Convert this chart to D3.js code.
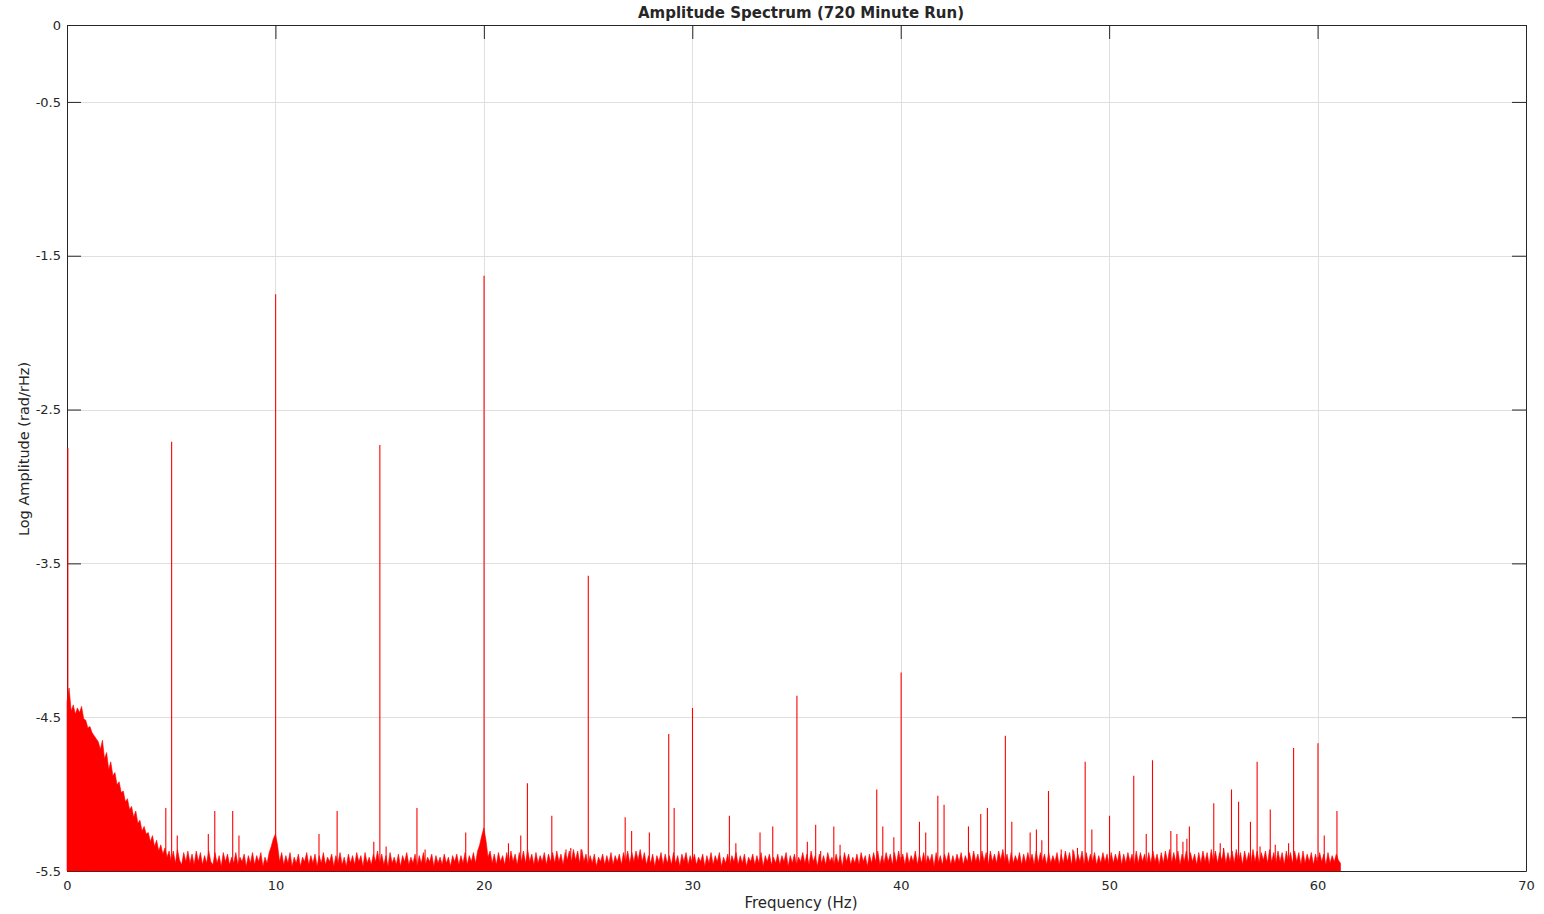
<!DOCTYPE html>
<html>
<head>
<meta charset="utf-8">
<script src="https://cdn.jsdelivr.net/npm/d3@7"></script>
<style>
  html, body { margin: 0; padding: 0; background: #fff; }
  svg text { font-family: "DejaVu Sans", sans-serif; fill: #262626; }
</style>
</head>
<body>
<svg id="chart" width="1544" height="914"></svg>
<script>
// Axis ticks
const xTicks = [0, 10, 20, 30, 40, 50, 60, 70];
const yTicks = [0, -0.5, -1.5, -2.5, -3.5, -4.5, -5.5];

// Broadband noise floor, log amplitude per 0.1 Hz bin starting at 0 Hz
const floorStep = 0.1;
const floorLevel = [
  -4.40,-4.31,-4.46,-4.42,-4.48,-4.44,-4.47,-4.43,-4.51,-4.52,
  -4.57,-4.56,-4.60,-4.62,-4.64,-4.66,-4.71,-4.65,-4.77,-4.73,
  -4.84,-4.79,-4.88,-4.86,-4.94,-4.92,-4.99,-4.98,-5.05,-5.03,
  -5.10,-5.08,-5.15,-5.11,-5.19,-5.17,-5.24,-5.21,-5.26,-5.25,
  -5.31,-5.27,-5.34,-5.30,-5.37,-5.33,-5.39,-5.35,-5.41,-5.37,
  -5.44,-5.37,-5.45,-5.36,-5.43,-5.46,-5.38,-5.44,-5.37,-5.45,
  -5.39,-5.46,-5.37,-5.44,-5.38,-5.46,-5.40,-5.45,-5.37,-5.44,
  -5.46,-5.38,-5.45,-5.40,-5.47,-5.38,-5.44,-5.39,-5.46,-5.41,
  -5.45,-5.38,-5.46,-5.41,-5.44,-5.39,-5.47,-5.40,-5.45,-5.38,
  -5.46,-5.40,-5.44,-5.38,-5.47,-5.41,-5.45,-5.38,-5.34,-5.29,
  -5.26,-5.33,-5.44,-5.38,-5.46,-5.40,-5.45,-5.38,-5.47,-5.41,
  -5.45,-5.39,-5.47,-5.41,-5.44,-5.38,-5.46,-5.40,-5.45,-5.39,
  -5.47,-5.40,-5.45,-5.38,-5.46,-5.41,-5.44,-5.39,-5.47,-5.40,
  -5.45,-5.38,-5.46,-5.41,-5.47,-5.39,-5.45,-5.40,-5.46,-5.38,
  -5.44,-5.40,-5.47,-5.38,-5.45,-5.41,-5.46,-5.39,-5.44,-5.37,
  -5.45,-5.39,-5.46,-5.40,-5.47,-5.38,-5.45,-5.41,-5.46,-5.39,
  -5.47,-5.40,-5.44,-5.38,-5.46,-5.41,-5.45,-5.39,-5.47,-5.40,
  -5.45,-5.38,-5.46,-5.41,-5.44,-5.39,-5.47,-5.40,-5.45,-5.41,
  -5.46,-5.39,-5.45,-5.41,-5.47,-5.40,-5.44,-5.39,-5.46,-5.40,
  -5.45,-5.38,-5.46,-5.40,-5.44,-5.38,-5.45,-5.37,-5.33,-5.27,
  -5.22,-5.30,-5.41,-5.37,-5.45,-5.39,-5.46,-5.38,-5.44,-5.40,
  -5.46,-5.38,-5.45,-5.37,-5.44,-5.39,-5.46,-5.38,-5.44,-5.37,
  -5.45,-5.36,-5.44,-5.39,-5.46,-5.38,-5.45,-5.40,-5.44,-5.38,
  -5.46,-5.39,-5.44,-5.38,-5.45,-5.37,-5.44,-5.39,-5.46,-5.38,
  -5.43,-5.37,-5.44,-5.36,-5.43,-5.37,-5.45,-5.36,-5.44,-5.39,
  -5.46,-5.40,-5.45,-5.39,-5.47,-5.41,-5.44,-5.39,-5.46,-5.40,
  -5.45,-5.38,-5.46,-5.40,-5.44,-5.39,-5.46,-5.38,-5.44,-5.37,
  -5.45,-5.38,-5.44,-5.37,-5.43,-5.36,-5.44,-5.38,-5.46,-5.40,
  -5.45,-5.39,-5.47,-5.40,-5.44,-5.38,-5.46,-5.39,-5.45,-5.40,
  -5.46,-5.38,-5.45,-5.40,-5.47,-5.39,-5.44,-5.38,-5.46,-5.40,
  -5.45,-5.39,-5.46,-5.41,-5.44,-5.39,-5.47,-5.40,-5.45,-5.38,
  -5.46,-5.40,-5.44,-5.38,-5.47,-5.41,-5.45,-5.39,-5.46,-5.40,
  -5.44,-5.38,-5.46,-5.40,-5.45,-5.39,-5.47,-5.41,-5.44,-5.39,
  -5.46,-5.40,-5.45,-5.38,-5.47,-5.40,-5.44,-5.39,-5.46,-5.41,
  -5.45,-5.39,-5.46,-5.40,-5.44,-5.38,-5.47,-5.40,-5.45,-5.39,
  -5.46,-5.41,-5.44,-5.38,-5.45,-5.39,-5.46,-5.37,-5.44,-5.40,
  -5.47,-5.39,-5.45,-5.40,-5.46,-5.38,-5.44,-5.41,-5.46,-5.39,
  -5.45,-5.40,-5.47,-5.38,-5.44,-5.39,-5.46,-5.41,-5.45,-5.39,
  -5.46,-5.38,-5.44,-5.40,-5.47,-5.39,-5.45,-5.38,-5.44,-5.37,
  -5.46,-5.40,-5.45,-5.38,-5.44,-5.39,-5.46,-5.38,-5.45,-5.37,
  -5.44,-5.39,-5.46,-5.38,-5.45,-5.40,-5.44,-5.37,-5.46,-5.39,
  -5.45,-5.38,-5.46,-5.40,-5.44,-5.39,-5.47,-5.38,-5.45,-5.40,
  -5.46,-5.39,-5.44,-5.38,-5.46,-5.40,-5.45,-5.39,-5.44,-5.38,
  -5.46,-5.40,-5.44,-5.38,-5.45,-5.37,-5.44,-5.39,-5.45,-5.37,
  -5.44,-5.38,-5.46,-5.37,-5.44,-5.39,-5.45,-5.37,-5.43,-5.36,
  -5.44,-5.39,-5.46,-5.38,-5.45,-5.40,-5.44,-5.38,-5.46,-5.39,
  -5.45,-5.38,-5.44,-5.39,-5.46,-5.37,-5.45,-5.38,-5.44,-5.39,
  -5.46,-5.38,-5.45,-5.40,-5.44,-5.38,-5.46,-5.39,-5.45,-5.37,
  -5.44,-5.38,-5.46,-5.37,-5.45,-5.39,-5.44,-5.37,-5.46,-5.38,
  -5.45,-5.39,-5.44,-5.38,-5.46,-5.40,-5.45,-5.38,-5.44,-5.39,
  -5.46,-5.38,-5.45,-5.39,-5.44,-5.37,-5.46,-5.39,-5.45,-5.38,
  -5.44,-5.39,-5.46,-5.37,-5.45,-5.38,-5.44,-5.39,-5.46,-5.38,
  -5.45,-5.37,-5.44,-5.39,-5.46,-5.38,-5.45,-5.37,-5.44,-5.36,
  -5.45,-5.38,-5.44,-5.37,-5.46,-5.39,-5.44,-5.37,-5.45,-5.38,
  -5.44,-5.39,-5.46,-5.38,-5.45,-5.37,-5.44,-5.38,-5.46,-5.36,
  -5.44,-5.37,-5.45,-5.38,-5.43,-5.36,-5.45,-5.38,-5.44,-5.37,
  -5.45,-5.36,-5.44,-5.38,-5.46,-5.37,-5.44,-5.38,-5.45,-5.36,
  -5.44,-5.37,-5.45,-5.38,-5.43,-5.37,-5.45,-5.36,-5.44,-5.38,
  -5.45,-5.37,-5.44,-5.38,-5.46,-5.37,-5.44,-5.38,-5.45,-5.37,
  -5.44,-5.38,-5.46,-5.37,-5.45,-5.39,-5.44,-5.38,-5.46,-5.39,
  -5.45,-5.38,-5.44,-5.39,-5.46,-5.38,-5.45,-5.40,-5.44,-5.39,
  -5.43,-5.45
];

// Narrow spectral lines: frequency (Hz) and log amplitude
const lineFreq = [
  0.04, 4.74, 5.02, 5.29, 6.78, 7.09, 7.95, 8.25, 10.01, 12.09,
  12.96, 14.72, 15.01, 15.31, 16.79, 17.18, 19.13, 20.01, 21.18, 21.77,
  22.09, 23.26, 23.94, 24.17, 24.66, 25.01, 26.78, 27.09, 27.94, 28.87,
  29.13, 30.01, 31.78, 32.09, 33.25, 33.86, 35.02, 35.52, 35.92, 36.16,
  36.79, 37.09, 38.85, 39.14, 39.67, 40.02, 40.90, 41.20, 41.78, 42.08,
  43.25, 43.84, 44.16, 45.02, 45.33, 46.21, 46.51, 46.77, 47.09, 47.70,
  48.26, 48.48, 48.85, 49.17, 50.02, 51.18, 51.78, 52.08, 52.96, 53.25,
  53.54, 53.73, 53.85, 55.02, 55.33, 55.49, 55.87, 56.21, 56.78, 57.10,
  57.24, 57.73, 57.97, 58.61, 58.85, 60.02, 60.32, 60.93
];
const lineLevel = [
  -2.75, -5.09, -2.71, -5.27, -5.26, -5.11, -5.11, -5.27, -1.75, -5.26,
  -5.11, -5.31, -2.73, -5.34, -5.09, -5.36, -5.25, -1.63, -5.32, -5.27,
  -4.93, -5.14, -5.36, -5.35, -5.36, -3.58, -5.15, -5.24, -5.25, -4.61,
  -5.09, -4.44, -5.14, -5.32, -5.25, -5.21, -4.36, -5.31, -5.20, -5.37,
  -5.21, -5.33, -4.97, -5.21, -5.28, -4.21, -5.18, -5.25, -5.01, -5.07,
  -5.21, -5.13, -5.09, -4.62, -5.18, -5.25, -5.23, -5.30, -4.98, -5.36,
  -5.36, -5.35, -4.79, -5.23, -5.14, -4.88, -5.26, -4.78, -5.24, -5.26,
  -5.31, -5.29, -5.21, -5.06, -5.32, -5.35, -4.97, -5.05, -5.18, -4.79,
  -5.34, -5.10, -5.33, -5.32, -4.70, -4.67, -5.27, -5.11
];

const plot = { left: 67, right: 1526, top: 25, bottom: 871 };
const tickLen = 14;
const axisColor = "#262626";

const svg = d3.select("#chart");

const x = d3.scaleLinear().domain([0, 70]).range([plot.left, plot.right]);
const y = d3.scaleLinear().domain([-5.5, 0]).range([plot.bottom, plot.top]);

// Grid
const grid = svg.append("g").attr("stroke", "#dfdfdf").attr("stroke-width", 1);
grid.selectAll(".gx").data(xTicks.slice(1, -1)).join("line")
  .attr("x1", d => Math.round(x(d)) + 0.5).attr("x2", d => Math.round(x(d)) + 0.5)
  .attr("y1", plot.top).attr("y2", plot.bottom);
grid.selectAll(".gy").data(yTicks.slice(1, -1)).join("line")
  .attr("y1", d => Math.round(y(d)) + 0.5).attr("y2", d => Math.round(y(d)) + 0.5)
  .attr("x1", plot.left).attr("x2", plot.right);

// Axes: ticks pointing inward on all four sides
function styleAxis(g) {
  g.select(".domain").attr("stroke", axisColor);
  g.selectAll(".tick line").attr("stroke", axisColor);
  g.selectAll(".tick text").attr("fill", axisColor)
    .style("font-family", '"DejaVu Sans", sans-serif').style("font-size", "13px");
}

svg.append("g").attr("transform", `translate(0,${plot.bottom})`)
  .call(d3.axisBottom(x).tickValues(xTicks).tickFormat(d3.format("d"))
    .tickSizeInner(-tickLen).tickSizeOuter(0).tickPadding(10))
  .call(g => g.attr("font-size", null).attr("font-family", null))
  .call(styleAxis);

svg.append("g").attr("transform", `translate(0,${plot.top})`)
  .call(d3.axisTop(x).tickValues(xTicks).tickFormat("")
    .tickSizeInner(-tickLen).tickSizeOuter(0))
  .call(styleAxis);

svg.append("g").attr("transform", `translate(${plot.left},0)`)
  .call(d3.axisLeft(y).tickValues(yTicks).tickFormat(d => d === 0 ? "0" : String(d))
    .tickSizeInner(-tickLen).tickSizeOuter(0).tickPadding(6))
  .call(g => g.attr("font-size", null).attr("font-family", null))
  .call(styleAxis);

svg.append("g").attr("transform", `translate(${plot.right},0)`)
  .call(d3.axisRight(y).tickValues(yTicks).tickFormat("")
    .tickSizeInner(-tickLen).tickSizeOuter(0))
  .call(styleAxis);

// Spectrum: noise floor as filled trace, spectral lines as vertical strokes
const floorData = floorLevel.map((v, i) => ({ f: i * floorStep, v }));
const area = d3.area()
  .x(d => x(d.f))
  .y0(y(-5.5))
  .y1(d => y(d.v));

svg.append("path")
  .datum(floorData)
  .attr("d", area)
  .attr("fill", "#ff0000")
  .attr("stroke", "#ff0000")
  .attr("stroke-width", 0.6);

const lines = lineFreq.map((f, i) => ({ f, v: lineLevel[i] }));
svg.append("g").selectAll("line").data(lines).join("line")
  .attr("x1", d => x(d.f)).attr("x2", d => x(d.f))
  .attr("y1", y(-5.5)).attr("y2", d => y(d.v))
  .attr("stroke", "#ff0000")
  .attr("stroke-width", 1.1);

// Titles
svg.append("text")
  .attr("x", 801).attr("y", 18)
  .attr("text-anchor", "middle")
  .style("font-size", "15px").style("font-weight", "bold")
  .attr("fill", "#000")
  .text("Amplitude Spectrum (720 Minute Run)");

svg.append("text")
  .attr("x", 801).attr("y", 908)
  .attr("text-anchor", "middle")
  .style("font-size", "15px")
  .text("Frequency (Hz)");

svg.append("text")
  .attr("transform", `translate(29,${(plot.top + plot.bottom) / 2 + 1}) rotate(-90)`)
  .attr("text-anchor", "middle")
  .style("font-size", "14.5px")
  .text("Log Amplitude (rad/rHz)");
</script>
</body>
</html>
